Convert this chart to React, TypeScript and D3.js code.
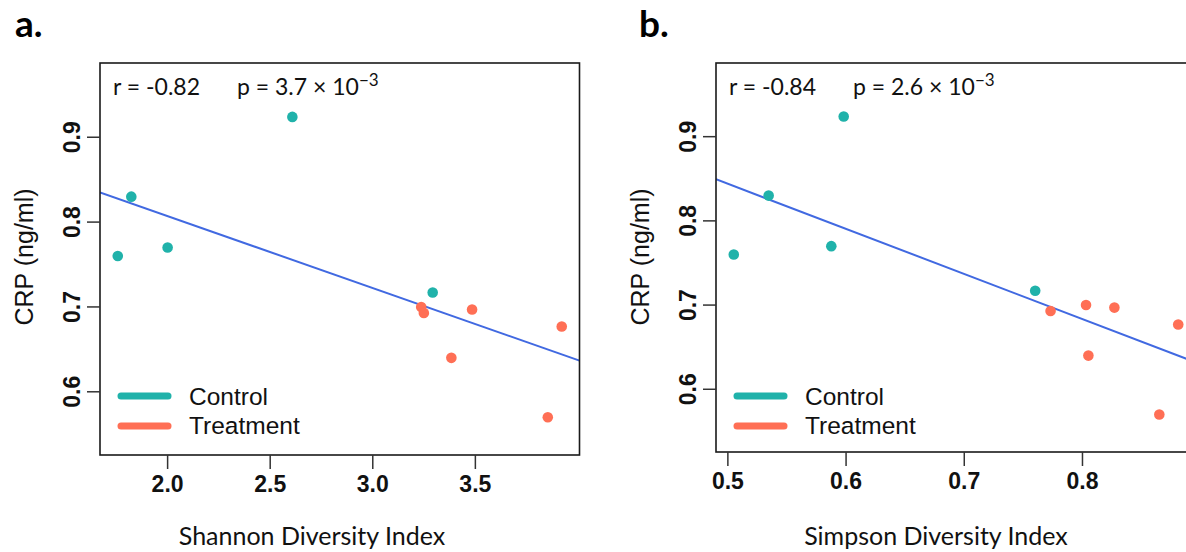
import React from "react";
import * as d3 from "d3";

// ---- data ----
const crpControl = [0.924, 0.83, 0.76, 0.77, 0.717];
const crpTreatment = [0.7, 0.693, 0.697, 0.677, 0.64, 0.57];
const shannonControl = [2.608, 1.823, 1.757, 2.0, 3.292];
const shannonTreatment = [3.236, 3.249, 3.484, 3.921, 3.383, 3.853];
const simpsonControl = [0.598, 0.5345, 0.505, 0.5875, 0.76];
const simpsonTreatment = [0.803, 0.773, 0.827, 0.881, 0.805, 0.865];
const shannonTicks = [2.0, 2.5, 3.0, 3.5];
const simpsonTicks = [0.5, 0.6, 0.7, 0.8];
const crpTicks = [0.6, 0.7, 0.8, 0.9];
const crpDomain = [0.5255, 0.9875];
const groups = ["Control", "Treatment"];
const panelLabels = ["a.", "b."];
const xTitles = ["Shannon Diversity Index", "Simpson Diversity Index"];
const rTexts = ["r = -0.82", "r = -0.84"];
const pTexts = ["p = 3.7 × 10", "p = 2.6 × 10"];
const pExp = "−3";
const yTitle = "CRP (ng/ml)";

const COLORS = ["#20B2AA", "#FF6F55"];
const LINE = "#4169E1";
const RFONT = "'Liberation Sans', Arial, Helvetica, sans-serif";
const CFONT = "Lato, 'Open Sans', sans-serif";

const panels = [
  {
    key: "a",
    left: 100, right: 579.5, top: 63, bottom: 455,
    xc: shannonControl, xt: shannonTreatment, ticks: shannonTicks,
    labelX: 15, titleCx: 312,
  },
  {
    key: "b",
    left: 716, right: 1196, top: 63, bottom: 452,
    xc: simpsonControl, xt: simpsonTreatment, ticks: simpsonTicks,
    labelX: 639, titleCx: 936,
  },
];

function Panel({ p, idx }: { p: any; idx: number }) {
  const allX = [...p.xc, ...p.xt];
  const allY = [...crpControl, ...crpTreatment];
  const [mn, mx] = d3.extent(allX) as [number, number];
  const pad = (mx - mn) * 0.04;
  const x = d3.scaleLinear().domain([mn - pad, mx + pad]).range([p.left, p.right]);
  const y = d3.scaleLinear().domain(crpDomain).range([p.bottom, p.top]);

  // least squares fit
  const mxv = d3.mean(allX) as number;
  const myv = d3.mean(allY) as number;
  let sxy = 0, sxx = 0;
  allX.forEach((v, i) => {
    sxy += (v - mxv) * (allY[i] - myv);
    sxx += (v - mxv) * (v - mxv);
  });
  const slope = sxy / sxx;
  const icpt = myv - slope * mxv;
  const [d0, d1] = x.domain();
  const line = d3.line<number>().x((d) => x(d)).y((d) => y(icpt + slope * d));
  const clipId = `clip-${p.key}`;

  const pts = [
    ...p.xc.map((v: number, i: number) => ({ x: v, y: crpControl[i], g: 0 })),
    ...p.xt.map((v: number, i: number) => ({ x: v, y: crpTreatment[i], g: 1 })),
  ];

  const yTickLabelX = p.left - 20;
  const yTitleX = p.left - 67;
  return (
    <g>
      <defs>
        <clipPath id={clipId}>
          <rect x={p.left} y={p.top} width={p.right - p.left} height={p.bottom - p.top} />
        </clipPath>
      </defs>
      <text x={p.labelX} y={37} fontFamily={CFONT} fontWeight={700} fontSize={37} fill="#000">
        {panelLabels[idx]}
      </text>
      {/* regression line */}
      <path d={line([d0, d1]) || ""} stroke={LINE} strokeWidth={2} fill="none" clipPath={`url(#${clipId})`} />
      {/* points */}
      {pts.map((d, i) => (
        <circle key={i} cx={x(d.x)} cy={y(d.y)} r={5.3} fill={COLORS[d.g]} />
      ))}
      {/* box */}
      <rect x={p.left} y={p.top} width={p.right - p.left} height={p.bottom - p.top} fill="none" stroke="#1a1a1a" strokeWidth={1.6} />
      {/* y ticks */}
      {crpTicks.map((t) => (
        <g key={t}>
          <line x1={p.left - 13} x2={p.left} y1={y(t)} y2={y(t)} stroke="#333" strokeWidth={1.5} />
          <text
            x={yTickLabelX}
            y={y(t)}
            transform={`rotate(-90, ${yTickLabelX}, ${y(t)})`}
            textAnchor="middle"
            fontFamily={RFONT}
            fontWeight={700}
            fontSize={23}
            fill="#111"
          >
            {t.toFixed(1)}
          </text>
        </g>
      ))}
      {/* x ticks */}
      {p.ticks.map((t: number) => (
        <g key={t}>
          <line x1={x(t)} x2={x(t)} y1={p.bottom} y2={p.bottom + 14} stroke="#333" strokeWidth={1.5} />
          <text x={x(t)} y={p.bottom + 37} textAnchor="middle" fontFamily={RFONT} fontWeight={700} fontSize={23} fill="#111">
            {t.toFixed(1)}
          </text>
        </g>
      ))}
      {/* y title */}
      <text
        x={yTitleX}
        y={257}
        transform={`rotate(-90, ${yTitleX}, 257)`}
        textAnchor="middle"
        fontFamily={RFONT}
        fontSize={25}
        fill="#111"
      >
        {yTitle}
      </text>
      {/* x title */}
      <text x={p.titleCx} y={545} textAnchor="middle" fontFamily={CFONT} fontSize={25} fill="#111">
        {xTitles[idx]}
      </text>
      {/* r and p */}
      <text x={p.left + 13} y={95} fontFamily={CFONT} fontSize={23} fill="#111">
        {rTexts[idx]}
      </text>
      <text x={p.left + 137} y={95} fontFamily={CFONT} fontSize={23} fill="#111">
        {pTexts[idx]}
        <tspan dy={-9} fontSize={17}>{pExp}</tspan>
      </text>
      {/* legend */}
      {groups.map((g, i) => (
        <g key={g}>
          <line
            x1={p.left + 21}
            x2={p.left + 68}
            y1={396 + i * 30}
            y2={396 + i * 30}
            stroke={COLORS[i]}
            strokeWidth={7}
            strokeLinecap="round"
          />
          <text x={p.left + 89} y={405 + i * 29} fontFamily={RFONT} fontSize={24.5} fill="#111">
            {g}
          </text>
        </g>
      ))}
    </g>
  );
}

export default function App() {
  return (
    <svg
      width={1186}
      height={552}
      style={{ position: "absolute", left: 0, top: 0, background: "#fff" }}
    >
      <rect x={0} y={0} width={1186} height={552} fill="#fff" />
      {panels.map((p, i) => (
        <Panel key={p.key} p={p} idx={i} />
      ))}
    </svg>
  );
}
